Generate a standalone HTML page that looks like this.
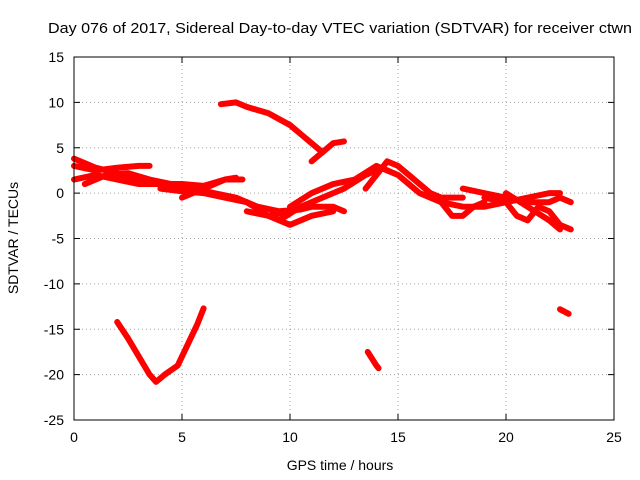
<!DOCTYPE html>
<html><head><meta charset="utf-8"><style>
body{margin:0;background:#fff}
svg{display:block;font-family:"Liberation Sans",sans-serif}
</style></head><body>
<svg id="chart" width="640" height="480">
<text x="48" y="33" font-size="15" textLength="584" lengthAdjust="spacingAndGlyphs">Day 076 of 2017, Sidereal Day-to-day VTEC variation (SDTVAR) for receiver ctwn</text>
<text x="340" y="470" font-size="14" text-anchor="middle">GPS time / hours</text>
<text transform="translate(18,238) rotate(-90)" font-size="14" text-anchor="middle">SDTVAR / TECUs</text>
<g id="grid"></g><g id="series"></g><g id="axes"></g>
</svg>
<script>
const xTicks=[0,5,10,15,20,25];
const yTicks=[15,10,5,0,-5,-10,-15,-20,-25];
const tracks=[
[[0,3.8],[0.5,3.3],[1,2.8],[1.5,2.5],[2,2.2],[2.5,1.8],[3,1.5],[3.5,1.3],[4,1.0]],
[[0,3.0],[1,2.5],[2,2.8],[3,3.0],[3.5,3.0]],
[[0,1.5],[1,2.0],[2,1.5],[3,1.0],[4,1.0],[5,1.0],[6,0.8],[7,1.5],[7.8,1.5]],
[[0.5,1.0],[1.5,2.0],[2.5,2.2],[3.5,1.5],[4.5,1.0],[5.5,0.5],[6.5,0],[7.5,-0.5],[8.5,-1.5],[9.5,-2.0],[10.5,-1.8],[11,-1.5]],
[[4,0.5],[5,0.2],[6,0],[7,-0.5],[8,-1.0],[9,-2.5],[10,-3.5],[11,-2.5],[12,-2.0]],
[[5,-0.5],[6,0.5],[7,1.5],[7.5,1.7]],
[[6.8,9.8],[7.5,10],[8,9.5],[9,8.8],[10,7.5],[10.5,6.5],[11,5.5],[11.5,4.5]],
[[11,3.5],[11.5,4.5],[12,5.5],[12.5,5.7]],
[[8,-2],[9,-2.5],[10,-2.0],[11,-1.5],[12,-1.5],[12.5,-2.0]],
[[9.5,-3],[10.5,-1.5],[11.5,-0.5],[12.5,0.5],[13.5,2],[14,2.5]],
[[10,-1.5],[11,0],[12,1],[13,1.5],[14,3],[14.5,2.5]],
[[13.5,0.5],[14,2],[14.5,3.5],[15,3],[15.5,2],[16,1],[16.5,0],[17,-0.5],[18,-0.5]],
[[14.5,2.5],[15,2],[15.5,1],[16,0],[17,-1],[17.5,-2.5],[18,-2.5],[18.5,-1.5],[19,-1]],
[[18,0.5],[19,0],[20,-0.5],[21,-1],[22,-1],[22.5,-0.5],[23,-1]],
[[19,-0.5],[20,-1],[20.5,-2.5],[21,-3],[21.5,-1.5],[22,-2],[22.5,-3.5],[23,-4]],
[[20,0],[21,-1.5],[22,-3],[22.5,-4]],
[[17,-1],[18,-1.5],[19,-1.5],[20,-1],[21,-0.5],[22,0],[22.5,0]],
[[2,-14.2],[2.5,-16],[3,-18],[3.5,-20],[3.8,-20.8],[4.2,-20],[4.8,-19],[5.2,-17],[5.7,-14.5],[6,-12.7]],
[[13.6,-17.5],[14,-19],[14.1,-19.3]],
[[22.5,-12.8],[22.9,-13.3]]
];
const X0=74,X1=614,Y0=57,Y1=420;
const sx=v=>X0+(v-0)/25*(X1-X0);
const sy=v=>Y0+(15-v)/40*(Y1-Y0);
const NS="http://www.w3.org/2000/svg";
const mk=(t,a,p)=>{const e=document.createElementNS(NS,t);for(const k in a)e.setAttribute(k,a[k]);p.appendChild(e);return e;};
const grid=document.getElementById('grid'),axes=document.getElementById('axes'),ser=document.getElementById('series');
xTicks.forEach(t=>{
 if(t>0&&t<25){const l=mk('line',{x1:sx(t),x2:sx(t),y1:Y0,y2:Y1,stroke:'#a0a0a0','stroke-dasharray':'1,3'},grid);
 }
 const tx=mk('text',{x:sx(t),y:Y1+22,'font-size':14,'text-anchor':'middle'},axes);tx.textContent=t;
 
 mk('line',{x1:sx(t),x2:sx(t),y1:Y1,y2:Y1-6,stroke:'#000'},axes);
 mk('line',{x1:sx(t),x2:sx(t),y1:Y0,y2:Y0+6,stroke:'#000'},axes);
});
yTicks.forEach(t=>{
 if(t<15&&t>-25){const l=mk('line',{x1:X0,x2:X1,y1:sy(t),y2:sy(t),stroke:'#a0a0a0','stroke-dasharray':'1,3'},grid);
 }
 const tx=mk('text',{x:X0-10,y:sy(t)+5,'font-size':14,'text-anchor':'end'},axes);tx.textContent=t;
 
 mk('line',{x1:X0,x2:X0+6,y1:sy(t),y2:sy(t),stroke:'#000'},axes);
 mk('line',{x1:X1,x2:X1-6,y1:sy(t),y2:sy(t),stroke:'#000'},axes);
});
const fr=mk('rect',{x:X0,y:Y0,width:X1-X0,height:Y1-Y0,fill:'none',stroke:'#000'},axes);

tracks.forEach(tr=>{
 const p=mk('polyline',{points:tr.map(d=>sx(d[0])+','+sy(d[1])).join(' '),fill:'none',stroke:'#f00','stroke-width':6,'stroke-linejoin':'round','stroke-linecap':'round'},ser);
 
 
});
</script>
</body></html>
